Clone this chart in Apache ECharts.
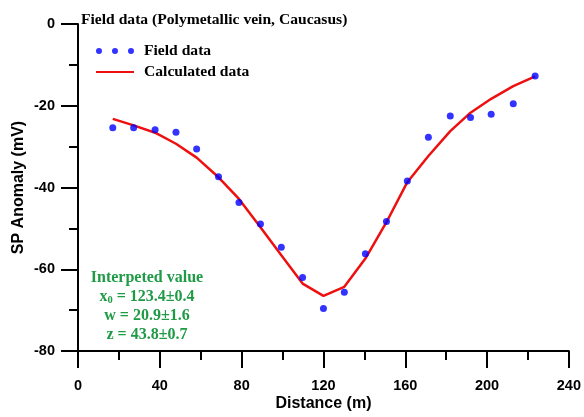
<!DOCTYPE html>
<html>
<head>
<meta charset="utf-8">
<script src="https://cdn.jsdelivr.net/npm/echarts@6/dist/echarts.min.js"></script>
<style>
  html, body { margin: 0; padding: 0; background: #fff; }
  #box { width: 584px; height: 417px; }
</style>
</head>
<body>
<div id="box"></div>
<script>
var myChart = echarts.init(document.getElementById("box"));
// 数据：距离 (m)，实测 / 计算 SP 值 (mV)
var distance = [17, 27.2, 37.7, 47.9, 58, 68.7, 78.7, 89.2, 99.4, 109.8, 120, 130.2, 140.5, 150.8, 161, 171.3, 182, 191.9, 202, 212.8, 223.5];
var fieldSP = [-25.4, -25.4, -25.9, -26.5, -30.6, -37.4, -43.7, -48.9, -54.6, -62.0, -69.6, -65.6, -56.2, -48.3, -38.4, -27.7, -22.5, -22.9, -22.1, -19.5, -12.7];
var calcSP = [-23.2, -24.8, -26.6, -29.3, -32.7, -37.5, -42.8, -49.7, -56.6, -63.5, -66.5, -64.3, -57.4, -48.5, -38.7, -32.3, -26.2, -21.7, -18.3, -15.2, -12.8];
var xTicks = [0, 40, 80, 120, 160, 200, 240];
var yTicks = [0, -20, -40, -60, -80];
var resultLines = ['Interpeted value', 'x{sub|0} = 123.4±0.4', 'w = 20.9±1.6', 'z = 43.8±0.7'];

var fieldData = [], calcData = [];
for (var i = 0; i < distance.length; i++) {
  fieldData.push([distance[i], fieldSP[i]]);
  calcData.push([distance[i], calcSP[i]]);
}

var serif = '"Liberation Serif", "Times New Roman", serif';
var sans = '"Liberation Sans", Arial, sans-serif';
var green = '#1f9a45';

var axisCommon = {
  axisLine: { show: true, onZero: false, lineStyle: { color: '#000', width: 2 } },
  axisTick: { show: true, inside: false, length: 17, lineStyle: { color: '#000', width: 2 } },
  minorTick: { show: true, splitNumber: 2, length: 9, lineStyle: { color: '#000', width: 2 } },
  splitLine: { show: false },
  axisLabel: { color: '#000', fontFamily: sans, fontWeight: 'bold', fontSize: 14.5 },
  nameTextStyle: { color: '#000', fontFamily: sans, fontWeight: 'bold', fontSize: 16 },
  nameMoveOverlap: false
};

var option = {
  animation: false,
  backgroundColor: '#fff',
  title: {
    text: 'Field data (Polymetallic vein, Caucasus)',
    left: 76,
    top: 7,
    textStyle: { fontFamily: serif, fontWeight: 'bold', fontSize: 15.6, color: '#000' }
  },
  legend: {
    orient: 'vertical',
    left: 91,
    top: 38,
    itemWidth: 38,
    itemHeight: 6,
    itemGap: 5,
    textStyle: { fontFamily: serif, fontWeight: 'bold', fontSize: 15.6, color: '#000', padding: [0, 0, 0, 5] },
    data: [
      { name: 'Field data', icon: 'path://M0,3a3,3 0 1,0 6,0a3,3 0 1,0 -6,0ZM16,3a3,3 0 1,0 6,0a3,3 0 1,0 -6,0ZM32,3a3,3 0 1,0 6,0a3,3 0 1,0 -6,0Z' },
      { name: 'Calculated data', icon: 'path://M0,2L38,2L38,4L0,4Z' }
    ]
  },
  grid: { left: 78, right: 12, top: 24, bottom: 64 },
  xAxis: Object.assign({}, axisCommon, {
    type: 'value',
    min: xTicks[0],
    max: xTicks[xTicks.length - 1],
    interval: 40,
    name: 'Distance (m)',
    nameLocation: 'middle',
    nameGap: 45,
    axisLabel: Object.assign({}, axisCommon.axisLabel, { margin: 27 })
  }),
  yAxis: Object.assign({}, axisCommon, {
    type: 'value',
    min: yTicks[yTicks.length - 1],
    max: yTicks[0],
    interval: 20,
    name: 'SP Anomaly (mV)',
    nameLocation: 'middle',
    nameGap: 51,
    axisLabel: Object.assign({}, axisCommon.axisLabel, { margin: 23 })
  }),
  graphic: [{
    type: 'text',
    x: 147,
    y: 268,
    style: {
      text: resultLines.join('\n'),
      align: 'center',
      verticalAlign: 'top',
      fill: green,
      font: 'bold 16px ' + serif,
      lineHeight: 19,
      rich: {
        sub: { fontSize: 10.5, fontFamily: serif, fontWeight: 'bold', fill: green, padding: [8, 0, 0, 0] }
      }
    }
  }],
  series: [{
    name: 'Field data',
    type: 'scatter',
    data: fieldData,
    symbol: 'circle',
    symbolSize: 7,
    itemStyle: { color: '#0000ff' },
    z: 3
  }, {
    name: 'Calculated data',
    type: 'line',
    data: calcData,
    showSymbol: false,
    symbol: 'none',
    lineStyle: { color: '#ee1010', width: 2.5 },
    itemStyle: { color: '#ee1010' },
    z: 2
  }]
};
myChart.setOption(option);
</script>
</body>
</html>
